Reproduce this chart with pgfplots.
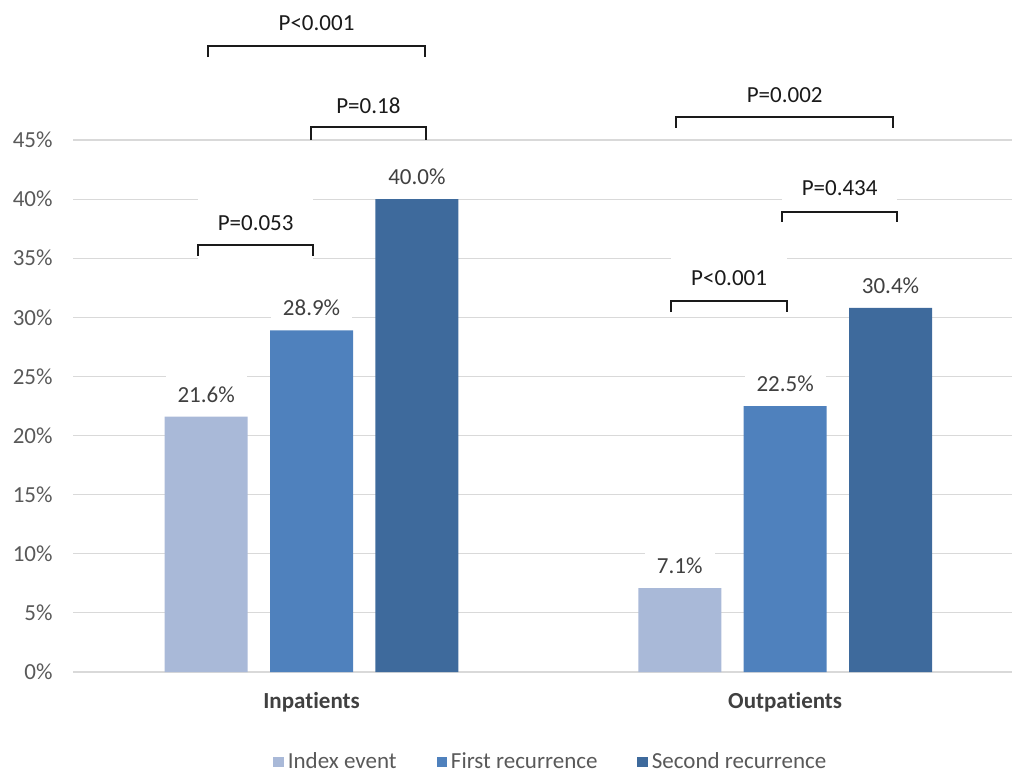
\documentclass[border=0pt]{standalone}
\usepackage{pgfplots}
\pgfplotsset{compat=1.18}
\usepackage{pgfplotstable}
\usepackage{fontspec}
\setmainfont{Carlito}[RawFeature={-liga;-clig;-calt}]

\definecolor{cIdx}{HTML}{A9B9D8}
\definecolor{cFirst}{HTML}{4F81BD}
\definecolor{cSecond}{HTML}{3E6A9C}
\definecolor{gridc}{HTML}{D9D9D9}
\definecolor{txtgray}{HTML}{595959}
\definecolor{txtdark}{HTML}{404040}
\definecolor{txtp}{HTML}{1A1A1A}

\pgfplotstableread{
x y lab
-0.2225 21.6 21.6
0.7775 7.1 7.1
}\idxtab
\pgfplotstableread{
x y lab
0 28.9 28.9
1 22.5 22.5
}\firsttab
\pgfplotstableread{
x y lab
0.2225 40.0 40.0
1.2225 30.8 30.4
}\secondtab

\begin{document}
\begin{tikzpicture}[font=\fontsize{11.5}{13.8}\selectfont]
\useasboundingbox (-36.5pt,-50pt) rectangle (469.5pt,336pt);
\begin{axis}[
  at={(0pt,0pt)}, anchor=south west,
  scale only axis, width=469.5pt, height=266pt,
  xmin=-0.5037, xmax=1.479, ymin=0, ymax=45,
  axis line style={draw=none},
  major tick length=0pt,
  /pgf/number format/assume math mode=true,
  ytick={0,5,...,45},
  yticklabel={\pgfmathprintnumber{\tick}\%},
  yticklabel style={text=txtgray, anchor=east, xshift=-6.7pt},
  ymajorgrids, grid style={gridc, line width=0.6pt},
  xtick={0,1}, xticklabels={Inpatients,Outpatients},
  xticklabel style={font=\fontsize{11.5}{13.8}\selectfont\bfseries, text=txtdark, anchor=center, yshift=-15pt},
  clip=false,
  point meta=explicit symbolic,
  nodes near coords={\pgfplotspointmeta\%},
  nodes near coords style={anchor=south, yshift=1pt, fill=white, inner xsep=6pt, inner ysep=6pt, text=txtdark, font=\fontsize{11.5}{13.8}\selectfont},
  legend style={at={(0.510,-0.1692)}, anchor=center, legend columns=3, draw=none, fill=none,
    text=txtgray, font=\fontsize{11.5}{13.8}\selectfont,
    /tikz/every even column/.append style={column sep=18pt}},
  sq/.style={legend image code/.code={\fill[##1] (0pt,-2.6pt) rectangle (5.2pt,2.6pt);}},
]
\addplot[ybar, bar width=0.1753, bar shift=0, fill=cIdx, draw=none, sq] table[x=x,y=y,meta=lab]{\idxtab};
\addlegendentry{Index event}
\addplot[ybar, bar width=0.1753, bar shift=0, fill=cFirst, draw=none, sq] table[x=x,y=y,meta=lab]{\firsttab};
\addlegendentry{First recurrence}
\addplot[ybar, bar width=0.1753, bar shift=0, fill=cSecond, draw=none, sq] table[x=x,y=y,meta=lab]{\secondtab};
\addlegendentry{Second recurrence}

% white backgrounds behind brackets
\fill[white] (axis cs:-0.2397,34.8) rectangle (axis cs:0.0032,40.1);
\fill[white] (axis cs:0.7592,30.6) rectangle (axis cs:1.0042,35.4);
\fill[white] (axis cs:0.9937,37.8) rectangle (axis cs:1.2365,42.9);

% brackets
\draw[txtp, line width=1.3pt] (axis cs:-0.2397,35.19) -- (axis cs:-0.2397,36.12) -- (axis cs:0.0032,36.12) -- (axis cs:0.0032,35.19);
\node[text=txtp] at (axis cs:-0.118,37.98) {P=0.053};
\draw[txtp, line width=1.3pt] (axis cs:-0.001,45.0) -- (axis cs:-0.001,46.10) -- (axis cs:0.2418,46.10) -- (axis cs:0.2418,45.0);
\node[text=txtp] at (axis cs:0.120,47.88) {P=0.18};
\draw[txtp, line width=1.3pt] (axis cs:-0.2186,52.02) -- (axis cs:-0.2186,52.95) -- (axis cs:0.2397,52.95) -- (axis cs:0.2397,52.02);
\node[text=txtp] at (axis cs:0.0105,54.9) {P<0.001};

\draw[txtp, line width=1.3pt] (axis cs:0.7592,30.45) -- (axis cs:0.7592,31.38) -- (axis cs:1.0042,31.38) -- (axis cs:1.0042,30.45);
\node[text=txtp] at (axis cs:0.8817,33.33) {P<0.001};
\draw[txtp, line width=1.3pt] (axis cs:0.9937,38.07) -- (axis cs:0.9937,38.91) -- (axis cs:1.2365,38.91) -- (axis cs:1.2365,38.07);
\node[text=txtp] at (axis cs:1.1151,40.94) {P=0.434};
\draw[txtp, line width=1.3pt] (axis cs:0.7698,46.02) -- (axis cs:0.7698,46.95) -- (axis cs:1.2281,46.95) -- (axis cs:1.2281,46.02);
\node[text=txtp] at (axis cs:0.999,48.81) {P=0.002};
\end{axis}
\end{tikzpicture}
\end{document}
